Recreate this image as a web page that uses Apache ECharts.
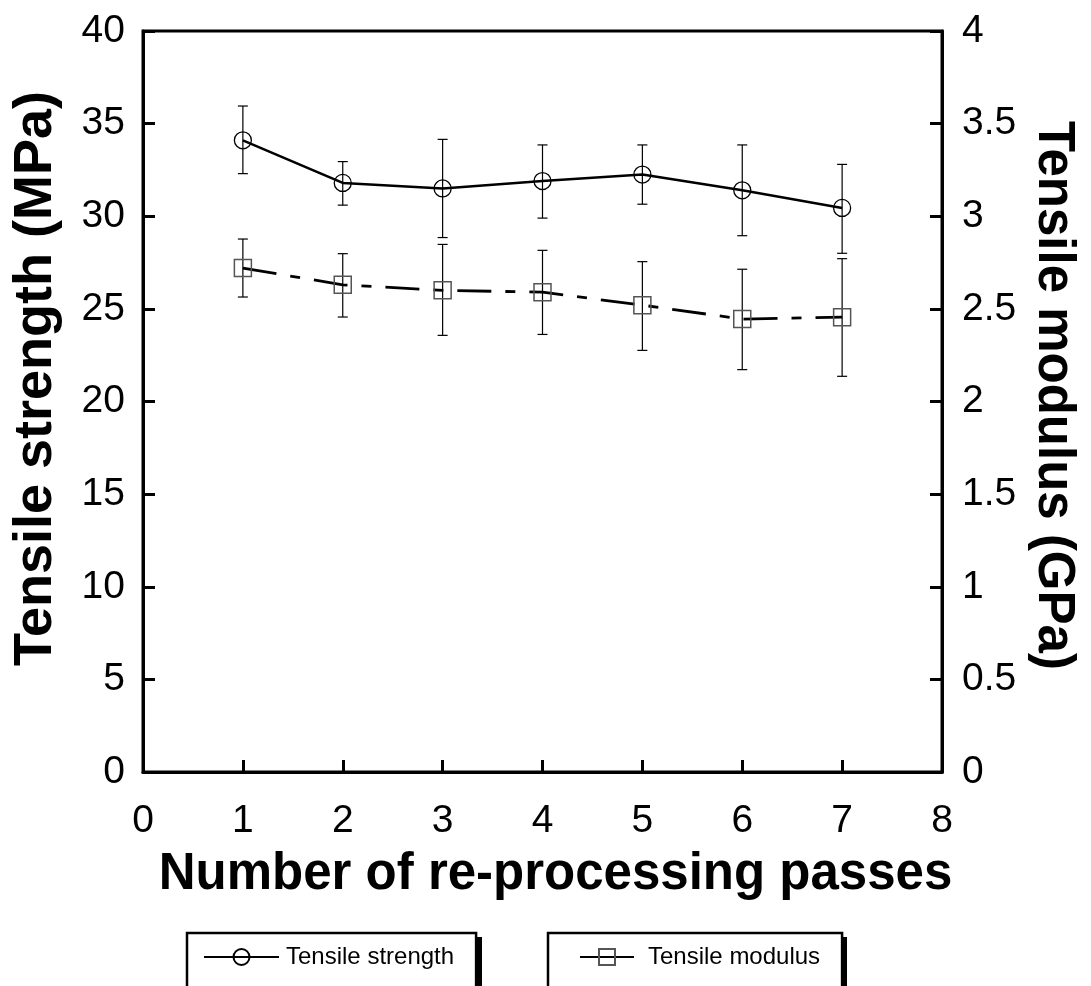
<!DOCTYPE html>
<html>
<head>
<meta charset="utf-8">
<script src="https://cdn.jsdelivr.net/npm/echarts@6/dist/echarts.min.js"></script>
<style>
html,body{margin:0;padding:0;background:#fff;}
#chart{width:1091px;height:986px;}
</style>
</head>
<body>
<div id="chart"></div>
<script>
// Data
const passes = [1, 2, 3, 4, 5, 6, 7];
const strength = [34.1, 31.8, 31.5, 31.9, 32.25, 31.4, 30.45];
const strengthHi = [35.95, 32.95, 34.15, 33.85, 33.85, 33.85, 32.8];
const strengthLo = [32.3, 30.6, 28.85, 29.9, 30.65, 28.95, 28.0];
const modulus = [2.72, 2.63, 2.60, 2.59, 2.52, 2.445, 2.455];
const modulusHi = [2.877, 2.798, 2.848, 2.816, 2.755, 2.714, 2.771];
const modulusLo = [2.564, 2.456, 2.357, 2.362, 2.276, 2.172, 2.136];
const xTicks = [0, 1, 2, 3, 4, 5, 6, 7, 8];
const leftTicks = [0, 5, 10, 15, 20, 25, 30, 35, 40];
const rightTicks = [0, 0.5, 1, 1.5, 2, 2.5, 3, 3.5, 4];

const FONT = 'Liberation Sans, Arial, sans-serif';

function pairs(xs, ys) { return xs.map((x, i) => [x, ys[i]]); }
function errData(xs, hi, lo) { return xs.map((x, i) => [x, hi[i], lo[i]]); }

function errRender(params, api) {
  const x = api.value(0);
  const top = api.coord([x, api.value(1)]);
  const bot = api.coord([x, api.value(2)]);
  const w = 5;
  const st = { stroke: '#000', lineWidth: 1.2 };
  return {
    type: 'group',
    children: [
      { type: 'line', shape: { x1: top[0], y1: top[1], x2: bot[0], y2: bot[1] }, style: st },
      { type: 'line', shape: { x1: top[0] - w, y1: top[1], x2: top[0] + w, y2: top[1] }, style: st },
      { type: 'line', shape: { x1: bot[0] - w, y1: bot[1], x2: bot[0] + w, y2: bot[1] }, style: st }
    ]
  };
}

const axisLine = { show: true, lineStyle: { color: '#000', width: 3 } };
const axisTick = { show: true, inside: true, length: 12, lineStyle: { color: '#000', width: 3 } };
const axisLabel = { color: '#000', fontSize: 39, fontFamily: FONT };
function nameStyle(size, padding) {
  return { color: '#000', fontSize: size, fontWeight: 'bold', fontFamily: FONT, padding: padding };
}

const chart = echarts.init(document.getElementById('chart'), null, { renderer: 'canvas' });
chart.setOption({
  backgroundColor: '#fff',
  animation: false,
  grid: {
    left: 143, right: 149, top: 31, bottom: 214,
    outerBoundsMode: 'none', containLabel: false,
    show: true, borderColor: '#000', borderWidth: 3, backgroundColor: 'transparent'
  },
  graphic: [
    { type: 'rect', left: 476, top: 937, shape: { width: 6, height: 60 }, style: { fill: '#000' }, z: -1 },
    { type: 'rect', left: 841, top: 937, shape: { width: 6, height: 60 }, style: { fill: '#000' }, z: -1 }
  ],
  xAxis: {
    type: 'value', min: xTicks[0], max: xTicks[xTicks.length - 1], interval: 1,
    name: 'Number of re-processing passes', nameLocation: 'middle', nameGap: 77,
    nameTextStyle: nameStyle(51, [0, 0, 0, 26]),
    axisLine: axisLine, axisTick: axisTick,
    axisLabel: Object.assign({ margin: 30 }, axisLabel),
    splitLine: { show: false }
  },
  yAxis: [
    {
      type: 'value', position: 'left', min: leftTicks[0], max: leftTicks[leftTicks.length - 1], interval: 5,
      name: 'Tensile strength (MPa)', nameLocation: 'middle', nameGap: 80,
      nameTextStyle: nameStyle(54, [0, 0, 0, 46]),
      axisLine: axisLine, axisTick: axisTick,
      axisLabel: Object.assign({ margin: 18 }, axisLabel),
      splitLine: { show: false }
    },
    {
      type: 'value', position: 'right', min: rightTicks[0], max: rightTicks[rightTicks.length - 1], interval: 0.5,
      name: 'Tensile modulus (GPa)', nameLocation: 'middle', nameGap: 86, nameRotate: -90,
      nameTextStyle: nameStyle(51, [0, 12, 0, 0]),
      axisLine: axisLine, axisTick: axisTick,
      axisLabel: Object.assign({ margin: 20 }, axisLabel),
      splitLine: { show: false }
    }
  ],
  legend: [
    {
      data: ['Tensile strength'], left: 187, top: 933, orient: 'horizontal',
      itemWidth: 75, itemHeight: 20, itemGap: 0,
      padding: [12, 22, 30, 16],
      borderColor: '#000', borderWidth: 2.5, backgroundColor: '#fff',
      textStyle: { color: '#000', fontSize: 24, fontFamily: FONT, padding: [0, 0, 0, 2] }
    },
    {
      data: ['Tensile modulus'], left: 548, top: 933, orient: 'horizontal',
      itemWidth: 54, itemHeight: 20, itemGap: 0,
      padding: [12, 22, 30, 31],
      borderColor: '#000', borderWidth: 2.5, backgroundColor: '#fff',
      lineStyle: { type: 'solid' },
      textStyle: { color: '#000', fontSize: 24, fontFamily: FONT, padding: [0, 0, 0, 9] }
    }
  ],
  series: [
    {
      name: 'Tensile strength err', type: 'custom', xAxisIndex: 0, yAxisIndex: 0,
      data: errData(passes, strengthHi, strengthLo), renderItem: errRender, z: 1, silent: true
    },
    {
      name: 'Tensile modulus err', type: 'custom', xAxisIndex: 0, yAxisIndex: 1,
      data: errData(passes, modulusHi, modulusLo), renderItem: errRender, z: 1, silent: true
    },
    {
      name: 'Tensile strength', type: 'line', xAxisIndex: 0, yAxisIndex: 0,
      data: pairs(passes, strength),
      symbol: 'circle', symbolSize: 17, z: 3,
      lineStyle: { color: '#000', width: 2.5, type: 'solid' },
      itemStyle: { color: 'rgba(255,255,255,0)', borderColor: '#000', borderWidth: 1.3 }
    },
    {
      name: 'Tensile modulus', type: 'line', xAxisIndex: 0, yAxisIndex: 1,
      data: pairs(passes, modulus),
      symbol: 'rect', symbolSize: 17, z: 3,
      lineStyle: { color: '#000', width: 2.8, type: [34, 14, 10, 14] },
      itemStyle: { color: 'rgba(255,255,255,0)', borderColor: '#555', borderWidth: 1.5 }
    }
  ]
});
</script>
</body>
</html>
